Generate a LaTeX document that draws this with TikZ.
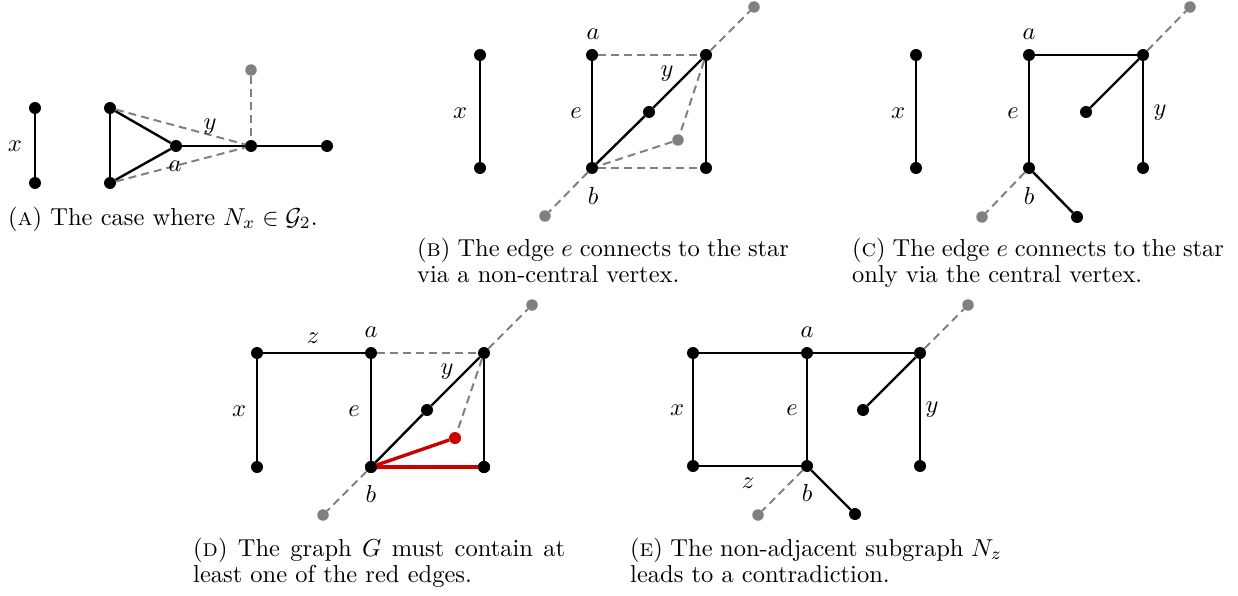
\RequirePackage{fix-cm}
\documentclass[tikz,border=0pt]{standalone}
\usepackage{amsmath}
\usepackage{graphicx}
\definecolor{dgray}{RGB}{128,128,128}
\definecolor{dred}{RGB}{204,0,0}
\newcommand{\mysz}[1]{\scalebox{2.45}{#1}}
\newcommand{\myline}[1]{\scalebox{2.45}{\makebox[151.8pt][s]{#1}}}
\tikzset{
  vtx/.style={circle,fill=black,inner sep=0pt,minimum size=12pt},
  gvtx/.style={circle,fill=dgray,inner sep=0pt,minimum size=11.5pt},
  rvtx/.style={circle,fill=dred,inner sep=0pt,minimum size=12pt},
  edg/.style={line width=2.4pt,black},
  dedg/.style={line width=2pt,dgray,dash pattern=on 8pt off 5pt},
  redg/.style={line width=3.4pt,dred},
  lbl/.style={inner sep=0pt},
  captxt/.style={inner sep=0pt,anchor=base west},
}
\begin{document}
\begin{tikzpicture}[x=1pt,y=-1pt,every node/.style={font=\normalsize}]
\useasboundingbox (0,0) rectangle (1238,596);
% ---------- Panel A ----------
\node[vtx] (A1) at (35,108) {};
\node[vtx] (A2) at (35,183) {};
\node[vtx] (At) at (110,108) {};
\node[vtx] (Ab) at (110,183) {};
\node[vtx] (Ac) at (176,146) {};
\node[vtx] (Ad) at (251,146) {};
\node[vtx] (Ae) at (327,146) {};
\node[gvtx] (Ag) at (251,70) {};
\draw[edg] (A1) -- (A2);
\draw[edg] (At) -- (Ab);
\draw[edg] (At) -- (Ac);
\draw[edg] (Ab) -- (Ac);
\draw[edg] (Ac) -- (Ad);
\draw[edg] (Ad) -- (Ae);
\draw[dedg] (Ag) -- (Ad);
\draw[dedg] (At) -- (Ad);
\draw[dedg] (Ab) -- (Ad);
\node[lbl] (Alx) at (15,146) {\mysz{$x$}};
\node[lbl] (Aly) at (210,127) {\mysz{$y$}};
\node[lbl] (Ala) at (175,166) {\mysz{$a$}};
\node[captxt] (Acap) at (8,225) {\mysz{(\textsc{a}) The case where $N_x \in \mathcal{G}_2$.}};
% ---------- Panel B ----------
\node[vtx] (Bx1) at (480,55) {};
\node[vtx] (Bx2) at (480,168) {};
\node[vtx] (Ba) at (592,55) {};
\node[vtx] (Bb) at (592,168) {};
\node[vtx] (Btr) at (706,55) {};
\node[vtx] (Bbr) at (706,168) {};
\node[vtx] (Bm) at (649,112) {};
\node[gvtx] (Bg) at (678,140) {};
\node[gvtx] (Bgt) at (754,7) {};
\node[gvtx] (Bgb) at (545,216) {};
\draw[edg] (Bx1) -- (Bx2);
\draw[edg] (Ba) -- (Bb);
\draw[edg] (Btr) -- (Bbr);
\draw[edg] (Bb) -- (Bm);
\draw[edg] (Bm) -- (Btr);
\draw[dedg] (Ba) -- (Btr);
\draw[dedg] (Bb) -- (Bbr);
\draw[dedg] (Btr) -- (Bg);
\draw[dedg] (Bg) -- (Bb);
\draw[dedg] (Btr) -- (Bgt);
\draw[dedg] (Bb) -- (Bgb);
\node[lbl] (Blx) at (460,113) {\mysz{$x$}};
\node[lbl] (Bla) at (593,34) {\mysz{$a$}};
\node[lbl] (Blb) at (593,196) {\mysz{$b$}};
\node[lbl] (Ble) at (576,113) {\mysz{$e$}};
\node[lbl] (Bly) at (667,74) {\mysz{$y$}};
\node[captxt] (Bcap1) at (417,256) {\myline{(\textsc{b}) The edge $e$ connects to the star}};
\node[captxt] (Bcap2) at (417,282) {\mysz{via a non-central vertex.}};
% ---------- Panel C ----------
\node[vtx] (Cx1) at (916,55) {};
\node[vtx] (Cx2) at (916,168) {};
\node[vtx] (Ca) at (1029,55) {};
\node[vtx] (Cb) at (1029,168) {};
\node[vtx] (Ctr) at (1143,55) {};
\node[vtx] (Cbr) at (1143,168) {};
\node[vtx] (Ci) at (1086,112) {};
\node[vtx] (Cl) at (1077,217) {};
\node[gvtx] (Cgt) at (1190,7) {};
\node[gvtx] (Cgb) at (982,217) {};
\draw[edg] (Cx1) -- (Cx2);
\draw[edg] (Ca) -- (Cb);
\draw[edg] (Ca) -- (Ctr);
\draw[edg] (Ctr) -- (Cbr);
\draw[edg] (Ctr) -- (Ci);
\draw[edg] (Cb) -- (Cl);
\draw[dedg] (Ctr) -- (Cgt);
\draw[dedg] (Cb) -- (Cgb);
\node[lbl] (Clx) at (898,113) {\mysz{$x$}};
\node[lbl] (Cla) at (1029,34) {\mysz{$a$}};
\node[lbl] (Clb) at (1029,196) {\mysz{$b$}};
\node[lbl] (Cle) at (1013,113) {\mysz{$e$}};
\node[lbl] (Cly) at (1160,113) {\mysz{$y$}};
\node[captxt] (Ccap1) at (852,256) {\myline{(\textsc{c}) The edge $e$ connects to the star}};
\node[captxt] (Ccap2) at (852,282) {\mysz{only via the central vertex.}};
% ---------- Panel D ----------
\node[vtx] (Dtl) at (257,353) {};
\node[vtx] (Dbl) at (257,467) {};
\node[vtx] (Da) at (371,353) {};
\node[vtx] (Db) at (371,467) {};
\node[vtx] (Dtr) at (484,353) {};
\node[vtx] (Dbr) at (484,467) {};
\node[vtx] (Dm) at (427,410) {};
\node[gvtx] (Dgt) at (532,305) {};
\node[gvtx] (Dgb) at (323,515) {};
\draw[edg] (Dtl) -- (Da);
\draw[edg] (Dtl) -- (Dbl);
\draw[edg] (Da) -- (Db);
\draw[edg] (Dtr) -- (Dbr);
\draw[edg] (Db) -- (Dm);
\draw[edg] (Dm) -- (Dtr);
\node[rvtx] (Dr) at (455,438) {};
\draw[dedg] (Da) -- (Dtr);
\draw[dedg] (Dtr) -- (Dr);
\draw[dedg] (Dtr) -- (Dgt);
\draw[dedg] (Db) -- (Dgb);
\draw[redg] (Db) -- (Dr);
\draw[redg] (Db) -- (Dbr);
\node[vtx] (Db2) at (Db) {};
\node[vtx] (Dbr2) at (Dbr) {};
\node[lbl] (Dlz) at (313,338) {\mysz{$z$}};
\node[lbl] (Dla) at (371,332) {\mysz{$a$}};
\node[lbl] (Dlx) at (239,411) {\mysz{$x$}};
\node[lbl] (Dle) at (354,411) {\mysz{$e$}};
\node[lbl] (Dly) at (447,372) {\mysz{$y$}};
\node[lbl] (Dlb) at (371,494) {\mysz{$b$}};
\node[captxt] (Dcap1) at (193,556) {\myline{(\textsc{d}) The graph $G$ must contain at}};
\node[captxt] (Dcap2) at (193,582) {\mysz{least one of the red edges.}};
% ---------- Panel E ----------
\node[vtx] (Etl) at (693,353) {};
\node[vtx] (Ebl) at (693,466) {};
\node[vtx] (Ea) at (807,353) {};
\node[vtx] (Eb) at (807,466) {};
\node[vtx] (Etr) at (920,353) {};
\node[vtx] (Ebr) at (920,466) {};
\node[vtx] (Ei) at (863,410) {};
\node[vtx] (El) at (855,514) {};
\node[gvtx] (Egt) at (968,305) {};
\node[gvtx] (Egb) at (758,515) {};
\draw[edg] (Etl) -- (Ea);
\draw[edg] (Ea) -- (Etr);
\draw[edg] (Etl) -- (Ebl);
\draw[edg] (Ebl) -- (Eb);
\draw[edg] (Ea) -- (Eb);
\draw[edg] (Etr) -- (Ebr);
\draw[edg] (Etr) -- (Ei);
\draw[edg] (Eb) -- (El);
\draw[dedg] (Etr) -- (Egt);
\draw[dedg] (Eb) -- (Egb);
\node[lbl] (Ela) at (807,332) {\mysz{$a$}};
\node[lbl] (Elx) at (677,410) {\mysz{$x$}};
\node[lbl] (Ele) at (792,410) {\mysz{$e$}};
\node[lbl] (Ely) at (932,410) {\mysz{$y$}};
\node[lbl] (Elz) at (748,483) {\mysz{$z$}};
\node[lbl] (Elb) at (807,493) {\mysz{$b$}};
\node[captxt] (Ecap1) at (630,556) {\myline{(\textsc{e}) The non-adjacent subgraph $N_z$}};
\node[captxt] (Ecap2) at (630,582) {\mysz{leads to a contradiction.}};
\end{tikzpicture}
\end{document}
